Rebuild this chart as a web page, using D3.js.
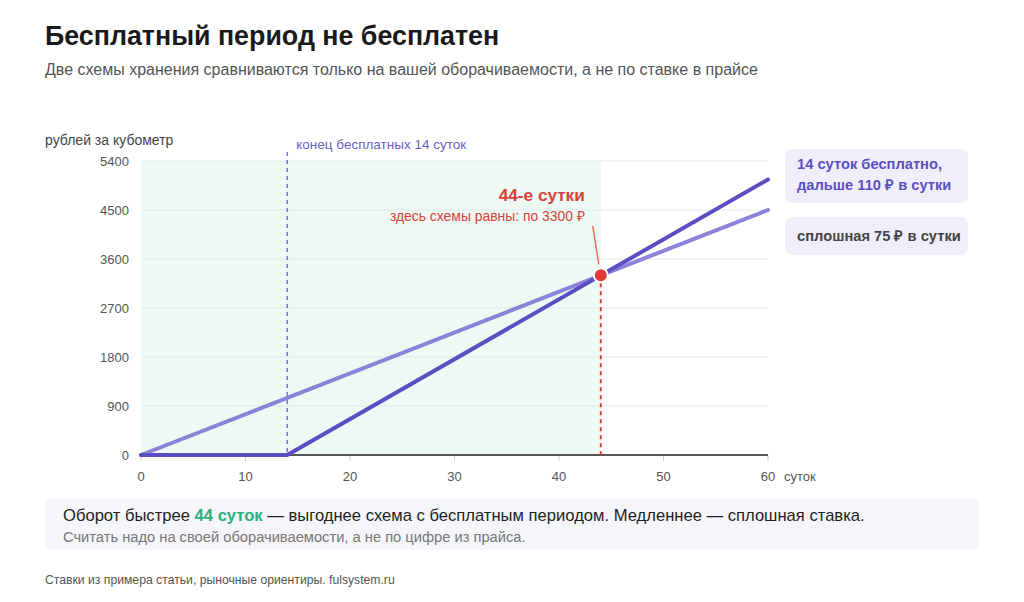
<!DOCTYPE html>
<html lang="ru">
<head>
<meta charset="utf-8">
<script src="https://cdn.jsdelivr.net/npm/d3@7"></script>
<style>
  html, body { margin: 0; padding: 0; background: #fff; }
  body { width: 1024px; height: 602px; overflow: hidden; font-family: "Liberation Sans", Arial, sans-serif; }
  svg text { font-family: "Liberation Sans", Arial, sans-serif; }
</style>
</head>
<body>
<div id="viz"></div>
<script>
// data
const yTicks = [0, 900, 1800, 2700, 3600, 4500, 5400];
const xTicks = [0, 10, 20, 30, 40, 50, 60];
const flatSeries = [[0, 0], [60, 4500]];           // сплошная 75 ₽ в сутки
const freeSeries = [[0, 0], [14, 0], [60, 5060]];  // 14 суток бесплатно, дальше 110 ₽
const freeDays = 14;
const breakEven = { day: 44, value: 3300 };
const legendItems = [
  { lines: ['14 суток бесплатно,', 'дальше 110 ₽ в сутки'], color: '#5a4ec2' },
  { lines: ['сплошная 75 ₽ в сутки'], color: '#444' },
];

const svg = d3.select('#viz')
  .append('svg')
  .attr('width', 1024)
  .attr('height', 602);

const xScale = d3.scaleLinear().domain([0, 60]).range([141, 768]);
const yScale = d3.scaleLinear().domain([0, 5400]).range([455, 161]);

// title
svg.append('text')
  .attr('x', 45).attr('y', 45)
  .attr('font-size', 26.8).attr('font-weight', 'bold').attr('fill', '#1a1a1a')
  .text('Бесплатный период не бесплатен');
svg.append('text')
  .attr('x', 45).attr('y', 75)
  .attr('font-size', 16).attr('fill', '#555')
  .text('Две схемы хранения сравниваются только на вашей оборачиваемости, а не по ставке в прайсе');

// shaded zone up to break-even
svg.append('rect')
  .attr('x', xScale(0)).attr('y', yScale(5400))
  .attr('width', xScale(breakEven.day) - xScale(0))
  .attr('height', yScale(0) - yScale(5400))
  .attr('fill', '#edf9f3');

// grid
svg.append('g')
  .selectAll('line')
  .data(yTicks.filter(d => d > 0))
  .join('line')
  .attr('x1', xScale(0)).attr('x2', xScale(60))
  .attr('y1', d => yScale(d)).attr('y2', d => yScale(d))
  .attr('stroke', '#e3e7ee').attr('stroke-width', 1);

// y tick labels
svg.append('g')
  .selectAll('text')
  .data(yTicks)
  .join('text')
  .attr('x', 129).attr('y', d => yScale(d) + 5)
  .attr('text-anchor', 'end')
  .attr('font-size', 13).attr('fill', '#555')
  .text(d => d);

svg.append('text')
  .attr('x', 45).attr('y', 145)
  .attr('font-size', 14).attr('fill', '#444')
  .text('рублей за кубометр');

// x axis
const xAxis = svg.append('g');
xAxis.selectAll('line')
  .data(xTicks)
  .join('line')
  .attr('x1', d => xScale(d)).attr('x2', d => xScale(d))
  .attr('y1', yScale(0)).attr('y2', yScale(0) + 6)
  .attr('stroke', '#c8ccd4');
xAxis.selectAll('text')
  .data(xTicks)
  .join('text')
  .attr('x', d => xScale(d)).attr('y', 481)
  .attr('text-anchor', 'middle')
  .attr('font-size', 13).attr('fill', '#555')
  .text(d => d);
svg.append('text')
  .attr('x', 784).attr('y', 481)
  .attr('font-size', 13).attr('fill', '#555')
  .text('суток');

svg.append('line')
  .attr('x1', xScale(0)).attr('x2', xScale(60))
  .attr('y1', yScale(0)).attr('y2', yScale(0))
  .attr('stroke', '#555').attr('stroke-width', 2);

// end of free period
svg.append('line')
  .attr('x1', xScale(freeDays)).attr('x2', xScale(freeDays))
  .attr('y1', 152).attr('y2', yScale(0))
  .attr('stroke', '#7a72cf').attr('stroke-width', 1.5)
  .attr('stroke-dasharray', '4,4');
svg.append('text')
  .attr('x', xScale(freeDays) + 9).attr('y', 149)
  .attr('font-size', 13.5).attr('fill', '#6a5fc8')
  .text('конец бесплатных 14 суток');

// lines
const line = d3.line().x(d => xScale(d[0])).y(d => yScale(d[1]));
svg.append('path')
  .datum(flatSeries)
  .attr('d', line)
  .attr('fill', 'none').attr('stroke', '#8b82d9')
  .attr('stroke-width', 4).attr('stroke-linecap', 'round');
svg.append('path')
  .datum(freeSeries)
  .attr('d', line)
  .attr('fill', 'none').attr('stroke', '#5a4ec2')
  .attr('stroke-width', 4).attr('stroke-linecap', 'round').attr('stroke-linejoin', 'round');

// break-even marker
const bx = xScale(breakEven.day), by = yScale(breakEven.value);
svg.append('line')
  .attr('x1', bx).attr('x2', bx)
  .attr('y1', by).attr('y2', yScale(0))
  .attr('stroke', '#d8403a').attr('stroke-width', 2)
  .attr('stroke-dasharray', '4,4');
svg.append('line')
  .attr('x1', bx - 8).attr('y1', 226)
  .attr('x2', bx - 2).attr('y2', by - 11)
  .attr('stroke', '#e07060').attr('stroke-width', 1.5);
svg.append('circle')
  .attr('cx', bx).attr('cy', by).attr('r', 7)
  .attr('fill', '#de3b36').attr('stroke', '#fff').attr('stroke-width', 2);
svg.append('text')
  .attr('x', bx - 16).attr('y', 201)
  .attr('text-anchor', 'end')
  .attr('font-size', 17.2).attr('font-weight', 'bold').attr('fill', '#d8403a')
  .text('44-е сутки');
svg.append('text')
  .attr('x', bx - 16).attr('y', 221)
  .attr('text-anchor', 'end')
  .attr('font-size', 13.9).attr('fill', '#d8403a')
  .text('здесь схемы равны: по 3300 ₽');

// legend boxes
const legend = svg.append('g');
let ly = 149;
legendItems.forEach(item => {
  const h = item.lines.length === 2 ? 54 : 38;
  legend.append('rect')
    .attr('x', 785).attr('y', ly).attr('width', 183).attr('height', h)
    .attr('rx', 7).attr('fill', '#efeefa');
  item.lines.forEach((t, j) => {
    legend.append('text')
      .attr('x', 797).attr('y', ly + (item.lines.length === 2 ? 20 + j * 21 : 24))
      .attr('font-size', 14.7).attr('font-weight', 'bold').attr('fill', item.color)
      .text(t);
  });
  ly += h + 14;
});

// summary box
svg.append('rect')
  .attr('x', 45).attr('y', 498).attr('width', 934).attr('height', 52)
  .attr('rx', 8).attr('fill', '#f4f6f9');
const summary = svg.append('text')
  .attr('x', 63).attr('y', 521)
  .attr('font-size', 16.6).attr('fill', '#1f1f1f');
summary.append('tspan').text('Оборот быстрее ');
summary.append('tspan').attr('font-weight', 'bold').attr('fill', '#2bb07a').text('44 суток');
summary.append('tspan').text(' — выгоднее схема с бесплатным периодом. Медленнее — сплошная ставка.');
svg.append('text')
  .attr('x', 63).attr('y', 542)
  .attr('font-size', 14.7).attr('fill', '#777')
  .text('Считать надо на своей оборачиваемости, а не по цифре из прайса.');

svg.append('text')
  .attr('x', 45).attr('y', 584)
  .attr('font-size', 12.2).attr('fill', '#555')
  .text('Ставки из примера статьи, рыночные ориентиры. fulsystem.ru');
</script>
</body>
</html>
